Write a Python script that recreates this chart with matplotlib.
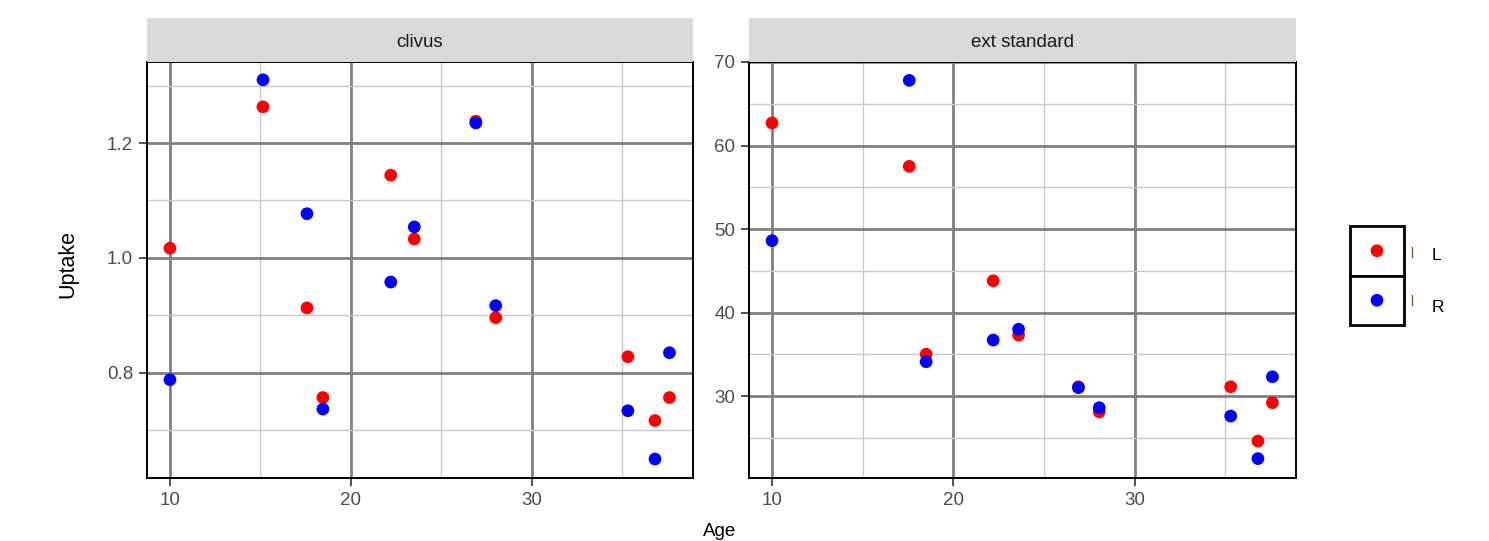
import matplotlib
matplotlib.use("Agg")
import matplotlib.pyplot as plt
from matplotlib.patches import Rectangle
from matplotlib.ticker import FixedLocator

plt.rcParams['font.family'] = ['Liberation Sans', 'DejaVu Sans']

# ---- data ----
panels = ["clivus", "ext standard"]
sides = ["L", "R"]
side_colors = {"L": "#FF0000", "R": "#0000FF"}

clivus_age = [10.0, 15.14, 17.57, 18.45, 22.2, 23.5, 26.9, 28.0, 35.3, 36.8, 37.6]
clivus_L = [1.017, 1.263, 0.913, 0.757, 1.144, 1.033, 1.238, 0.896, 0.828, 0.717, 0.757]
clivus_R = [0.788, 1.310, 1.077, 0.737, 0.958, 1.054, 1.235, 0.917, 0.734, 0.650, 0.835]

ext_age = [10.0, 17.57, 18.5, 22.2, 23.6, 26.9, 28.05, 35.3, 36.8, 37.6]
ext_L = [62.7, 57.5, 35.0, 43.8, 37.3, 31.1, 28.1, 31.1, 24.6, 29.2]
ext_R = [48.6, 67.8, 34.1, 36.7, 38.0, 31.0, 28.6, 27.6, 22.5, 32.3]

x_major = [10, 20, 30]
x_minor = [15, 25, 35]

W, H = 1489, 541
fig = plt.figure(figsize=(W / 100, H / 100), dpi=100)

def px_axes(x0, y0, x1, y1):
    return fig.add_axes([x0 / W, 1 - y1 / H, (x1 - x0) / W, (y1 - y0) / H])

specs = [
    dict(title=panels[0], box=(147, 62, 693, 478), age=clivus_age, L=clivus_L, R=clivus_R,
         ylim=(0.617, 1.341), ymaj=[0.8, 1.0, 1.2], ymin=[0.7, 0.9, 1.1, 1.3], fmt="{:.1f}"),
    dict(title=panels[1], box=(749, 62, 1296, 478), age=ext_age, L=ext_L, R=ext_R,
         ylim=(20.18, 70.0), ymaj=[30, 40, 50, 60, 70], ymin=[25, 35, 45, 55, 65], fmt="{:.0f}"),
]

major_c = "#808080"
minor_c = "#c8c8c8"
tick_c = "#4d4d4d"
FS = 13.5

axes = []
for s in specs:
    x0, y0, x1, y1 = s["box"]
    ax = px_axes(x0, y0, x1, y1)
    ax.set_xlim(8.73, 38.9)
    ax.set_ylim(*s["ylim"])
    ax.xaxis.set_major_locator(FixedLocator(x_major))
    ax.xaxis.set_minor_locator(FixedLocator(x_minor))
    ax.yaxis.set_major_locator(FixedLocator(s["ymaj"]))
    ax.yaxis.set_minor_locator(FixedLocator(s["ymin"]))
    ax.set_yticklabels([s["fmt"].format(v) for v in s["ymaj"]])
    ax.grid(which="major", color=major_c, lw=2.0)
    ax.grid(which="minor", color=minor_c, lw=1.0)
    ax.set_axisbelow(True)
    ax.tick_params(which="major", length=5.5, width=1.2, color="#333333", labelcolor=tick_c,
                   labelsize=FS, pad=4.5)
    ax.tick_params(which="minor", length=0)
    for sp in ax.spines.values():
        sp.set_color("black")
        sp.set_linewidth(1.4)
    for side in sides:
        ax.scatter(s["age"], s[side], s=84, color=side_colors[side], edgecolors="none",
                   zorder=3, label=side)
    # strip
    sax = px_axes(x0, 18, x1, 62)
    sax.set_xlim(0, 1)
    sax.set_ylim(0, 1)
    sax.set_facecolor("#d9d9d9")
    for sp in sax.spines.values():
        sp.set_visible(False)
    sax.set_xticks([])
    sax.set_yticks([])
    sax.text(0.5, 0.45, s["title"], ha="center", va="center", fontsize=FS, color="#1a1a1a")
    axes.append(ax)

fig.text(68 / W, 1 - 264 / H, "Uptake", rotation=90, ha="center", va="center",
         fontsize=15.5, color="black")
fig.text(720 / W, 1 - 531 / H, "Age", ha="center", va="center", fontsize=FS, color="black")

# legend
lax = px_axes(1350, 226, 1404, 325)
lax.set_xlim(0, 1)
lax.set_ylim(0, 2)
lax.axis("off")
for i, side in enumerate(sides):
    yb = 1 - i
    lax.add_patch(Rectangle((0, yb), 1, 1, facecolor="white", edgecolor="black", lw=2.0,
                            clip_on=False))
    lax.scatter([0.5], [yb + 0.5], s=84, color=side_colors[side], edgecolors="none",
                zorder=3, clip_on=False)
    yc = 1 - (252 + i * 48) / H
    fig.add_artist(plt.Line2D([1412 / W, 1412 / W], [yc - 5 / H, yc + 5 / H],
                              color="#8b5a2b", lw=1.0))
    fig.text(1432 / W, 1 - (256 + i * 51) / H, side, ha="left", va="center",
             fontsize=12.5, color="black")

fig.savefig("out.png", dpi=100, facecolor="white")
